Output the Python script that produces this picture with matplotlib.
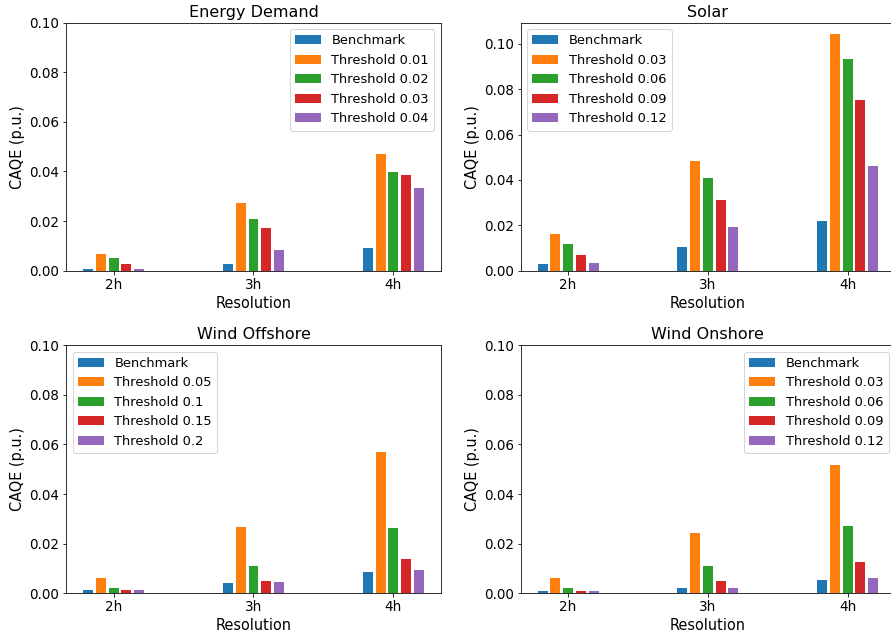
import numpy as np
import matplotlib.pyplot as plt

resolutions = ['2h', '3h', '4h']

# CAQE por resolução: benchmark + 4 thresholds
demand_labels = ['Benchmark', 'Threshold 0.01', 'Threshold 0.02', 'Threshold 0.03', 'Threshold 0.04']
demand_vals = [
    [0.0008, 0.0029, 0.0090],
    [0.0069, 0.0271, 0.0469],
    [0.0053, 0.0208, 0.0396],
    [0.0029, 0.0171, 0.0384],
    [0.0008, 0.0082, 0.0335],
]

solar_labels = ['Benchmark', 'Threshold 0.03', 'Threshold 0.06', 'Threshold 0.09', 'Threshold 0.12']
solar_vals = [
    [0.0029, 0.0104, 0.0218],
    [0.0161, 0.0482, 0.1041],
    [0.0117, 0.0408, 0.0931],
    [0.0069, 0.0311, 0.0751],
    [0.0034, 0.0192, 0.0460],
]

offshore_labels = ['Benchmark', 'Threshold 0.05', 'Threshold 0.1', 'Threshold 0.15', 'Threshold 0.2']
offshore_vals = [
    [0.0014, 0.0042, 0.0086],
    [0.0062, 0.0269, 0.0569],
    [0.0022, 0.0111, 0.0265],
    [0.0014, 0.0050, 0.0139],
    [0.0014, 0.0046, 0.0095],
]

onshore_labels = ['Benchmark', 'Threshold 0.03', 'Threshold 0.06', 'Threshold 0.09', 'Threshold 0.12']
onshore_vals = [
    [0.0009, 0.0022, 0.0054],
    [0.0062, 0.0245, 0.0516],
    [0.0022, 0.0111, 0.0273],
    [0.0009, 0.0050, 0.0127],
    [0.0009, 0.0022, 0.0062],
]

plt.rcParams['axes.titlesize'] = 16
plt.rcParams['axes.labelsize'] = 14.5
plt.rcParams['xtick.labelsize'] = 13.5
plt.rcParams['ytick.labelsize'] = 13.5
plt.rcParams['legend.fontsize'] = 13

fig = plt.figure(figsize=(891 / 72, 635 / 72), dpi=72)

# posições dos eixos (o painel da direita passa um pouco da borda)
w, h = 0.4202, 0.3906
ax_ed = fig.add_axes([0.0744, 0.5737, w, h])
ax_so = fig.add_axes([0.5844, 0.5737, w, h])
ax_off = fig.add_axes([0.0744, 0.0657, w, h])
ax_on = fig.add_axes([0.5844, 0.0657, w, h])

x = np.arange(len(resolutions))
step = 0.091
width = 0.071


def plot_panel(ax, title, labels, vals, legend_loc, fixed_ylim=True):
    for i, (lab, v) in enumerate(zip(labels, vals)):
        ax.bar(x + (i - 2) * step, v, width, label=lab)
    ax.set_xticks(x)
    ax.set_xticklabels(resolutions)
    ax.set_xlabel('Resolution')
    ax.set_ylabel('CAQE (p.u.)')
    ax.set_title(title)
    if fixed_ylim:
        ax.set_ylim(0, 0.1)
    ax.legend(loc=legend_loc)


plot_panel(ax_ed, 'Energy Demand', demand_labels, demand_vals, 'upper right')
plot_panel(ax_so, 'Solar', solar_labels, solar_vals, 'upper left', fixed_ylim=False)
plot_panel(ax_off, 'Wind Offshore', offshore_labels, offshore_vals, 'upper left')
plot_panel(ax_on, 'Wind Onshore', onshore_labels, onshore_vals, 'upper right')

plt.savefig('out.png', dpi=72)
